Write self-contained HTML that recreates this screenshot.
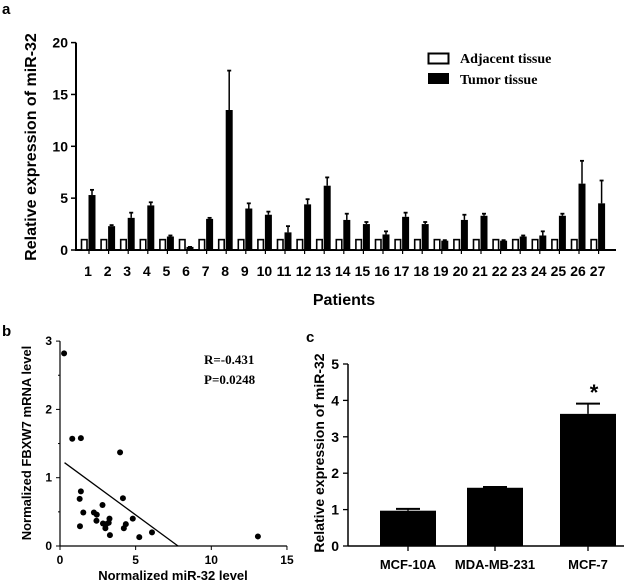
<!DOCTYPE html>
<html><head><meta charset="utf-8"><style>
html,body{margin:0;padding:0;background:#fff;}
svg{display:block;font-family:"Liberation Sans",Arial,sans-serif;font-weight:bold;}
.serif{font-family:"Liberation Serif",serif;}
</style></head><body>
<svg id="fig" width="640" height="583" viewBox="0 0 640 583" xmlns="http://www.w3.org/2000/svg">
<text x="2" y="14" font-size="15">a</text>
<text x="2" y="336" font-size="15">b</text>
<text x="306" y="342" font-size="15">c</text>
<g id="pa"></g>
<g id="pb"></g>
<g id="pc"></g>
</svg>
<script>
const patients=["1","2","3","4","5","6","7","8","9","10","11","12","13","14","15","16","17","18","19","20","21","22","23","24","25","26","27"];
const adjacentValues=[1,1,1,1,1,1,1,1,1,1,1,1,1,1,1,1,1,1,1,1,1,1,1,1,1,1,1];
const tumorValues=[5.3,2.3,3.1,4.3,1.3,0.3,3.0,13.5,4.0,3.4,1.7,4.4,6.2,2.9,2.5,1.5,3.2,2.5,0.9,2.9,3.3,0.9,1.3,1.4,3.3,6.4,4.5];
const tumorErrors=[0.5,0.1,0.5,0.3,0.1,0,0.1,3.8,0.5,0.3,0.6,0.5,0.8,0.6,0.2,0.3,0.4,0.2,0.05,0.5,0.2,0.05,0.1,0.4,0.2,2.2,2.2];
const aTicks=[0,5,10,15,20];
const scatterX=[0.27,0.81,1.38,3.97,1.30,1.38,4.16,1.54,1.32,2.24,2.43,2.41,2.81,2.84,3.05,3.0,3.27,3.22,3.30,4.22,4.35,4.81,5.24,6.08,13.08];
const scatterY=[2.82,1.57,1.58,1.37,0.69,0.80,0.70,0.49,0.29,0.49,0.46,0.37,0.60,0.33,0.32,0.26,0.40,0.34,0.16,0.26,0.32,0.40,0.13,0.20,0.14];
const fitLine=[[0.3,1.22],[7.8,0]];
const bXTicks=[0,5,10,15];
const bYTicks=[0,1,2,3];
const cellLines=["MCF-10A","MDA-MB-231","MCF-7"];
const cellValues=[0.97,1.6,3.63];
const cellErrors=[0.05,0.02,0.28];
const cTicks=[0,1,2,3,4,5];
const NS="http://www.w3.org/2000/svg";
function mk(p,t,a,txt){const e=document.createElementNS(NS,t);for(const k in a)e.setAttribute(k,a[k]);if(txt!==undefined)e.textContent=txt;p.appendChild(e);return e;}

// Panel a
const pa=document.getElementById('pa');
const ay=v=>250-v*10.37;
const ax=i=>88+i*19.6;
mk(pa,'line',{x1:76,y1:ay(20),x2:76,y2:250,stroke:'#000','stroke-width':2});
mk(pa,'line',{x1:75,y1:250,x2:616,y2:250,stroke:'#000','stroke-width':2});
aTicks.forEach(t=>{
  mk(pa,'line',{x1:71,y1:ay(t),x2:76,y2:ay(t),stroke:'#000','stroke-width':1.5});
  const l=mk(pa,'text',{x:68,y:ay(t)+5,'font-size':14,'text-anchor':'end'},t);
  
  
});
patients.forEach((p,i)=>{
  const cx=ax(i);
  const w=mk(pa,'rect',{x:cx-6.5,y:ay(adjacentValues[i]),width:5.5,height:250-ay(adjacentValues[i]),fill:'#fff',stroke:'#000','stroke-width':1.6});
  
  
  const top=ay(tumorValues[i]);
  const b=mk(pa,'rect',{x:cx+0.5,y:top,width:7,height:250-top,fill:'#000'});
  
  
  const et=ay(tumorValues[i]+tumorErrors[i]);
  mk(pa,'line',{x1:cx+4,y1:top,x2:cx+4,y2:et,stroke:'#000','stroke-width':1.5});
  mk(pa,'line',{x1:cx+2,y1:et,x2:cx+6,y2:et,stroke:'#000','stroke-width':1.8});
  mk(pa,'line',{x1:cx+1,y1:250,x2:cx+1,y2:254,stroke:'#000','stroke-width':1.2});
  const l=mk(pa,'text',{x:cx,y:276,'font-size':14,'text-anchor':'middle'},p);
  
  
});
mk(pa,'text',{x:344,y:305,'font-size':16,'text-anchor':'middle'},'Patients');
mk(pa,'text',{x:0,y:0,'font-size':16,'text-anchor':'middle',transform:'translate(36,147) rotate(-90)'},'Relative expression of miR-32');
mk(pa,'rect',{x:428.5,y:53.5,width:20,height:10,fill:'#fff',stroke:'#000','stroke-width':2});
mk(pa,'rect',{x:428,y:73,width:21,height:11,fill:'#000'});
mk(pa,'text',{x:460,y:63,'font-size':14,class:'serif'},'Adjacent tissue');
mk(pa,'text',{x:460,y:84,'font-size':14,class:'serif'},'Tumor tissue');

// Panel b
const pb=document.getElementById('pb');
const bx=v=>60+v*15.13;
const by=v=>546-v*68.3;
mk(pb,'line',{x1:60,y1:by(3),x2:60,y2:546,stroke:'#000','stroke-width':1.2});
mk(pb,'line',{x1:60,y1:546,x2:bx(15),y2:546,stroke:'#000','stroke-width':1.2});
bYTicks.forEach(t=>{
  mk(pb,'line',{x1:56,y1:by(t),x2:60,y2:by(t),stroke:'#000'});
  const l=mk(pb,'text',{x:52,y:by(t)+4,'font-size':12,'text-anchor':'end'},t);
  
  
});
for(let v=0.5;v<3;v+=0.5){if(v%1)mk(pb,'line',{x1:58,y1:by(v),x2:60,y2:by(v),stroke:'#000'});}
bXTicks.forEach(t=>{
  mk(pb,'line',{x1:bx(t),y1:546,x2:bx(t),y2:550,stroke:'#000'});
  const l=mk(pb,'text',{x:bx(t),y:564,'font-size':12,'text-anchor':'middle'},t);
  
  
});
mk(pb,'line',{x1:bx(fitLine[0][0]),y1:by(fitLine[0][1]),x2:bx(fitLine[1][0]),y2:by(fitLine[1][1]),stroke:'#000','stroke-width':1.3});
scatterX.forEach((x,i)=>{
  const c=mk(pb,'circle',{cx:bx(x),cy:by(scatterY[i]),r:3,fill:'#000'});
  
  
});
mk(pb,'text',{x:204,y:364,'font-size':13,class:'serif'},'R=-0.431');
mk(pb,'text',{x:204,y:384,'font-size':13,class:'serif'},'P=0.0248');
mk(pb,'text',{x:173,y:580,'font-size':13,'text-anchor':'middle'},'Normalized miR-32 level');
mk(pb,'text',{x:0,y:0,'font-size':13,'text-anchor':'middle',transform:'translate(31,443) rotate(-90)'},'Normalized FBXW7 mRNA level');

// Panel c
const pc=document.getElementById('pc');
const cy=v=>546-v*36.4;
const cx0=[408,495,588];
mk(pc,'line',{x1:348,y1:cy(5),x2:348,y2:546,stroke:'#000','stroke-width':1.5});
mk(pc,'line',{x1:348,y1:546,x2:624,y2:546,stroke:'#000','stroke-width':1.5});
cTicks.forEach(t=>{
  mk(pc,'line',{x1:343,y1:cy(t),x2:348,y2:cy(t),stroke:'#000','stroke-width':1.3});
  const l=mk(pc,'text',{x:339,y:cy(t)+5,'font-size':14,'text-anchor':'end'},t);
  
  
});
cellLines.forEach((n,i)=>{
  const x=cx0[i], top=cy(cellValues[i]);
  const b=mk(pc,'rect',{x:x-28,y:top,width:56,height:546-top,fill:'#000'});
  
  
  const et=cy(cellValues[i]+cellErrors[i]);
  mk(pc,'line',{x1:x,y1:top,x2:x,y2:et,stroke:'#000','stroke-width':1.5});
  mk(pc,'line',{x1:x-12,y1:et,x2:x+12,y2:et,stroke:'#000','stroke-width':2});
  mk(pc,'line',{x1:x,y1:546,x2:x,y2:551,stroke:'#000','stroke-width':1.3});
  const l=mk(pc,'text',{x:x,y:569,'font-size':13,'text-anchor':'middle'},n);
  
  
});
mk(pc,'text',{x:594,y:400,'font-size':22,'text-anchor':'middle'},'*');
mk(pc,'text',{x:0,y:0,'font-size':14,'text-anchor':'middle',transform:'translate(324,453) rotate(-90)'},'Relative expression of miR-32');
</script>
</body></html>
